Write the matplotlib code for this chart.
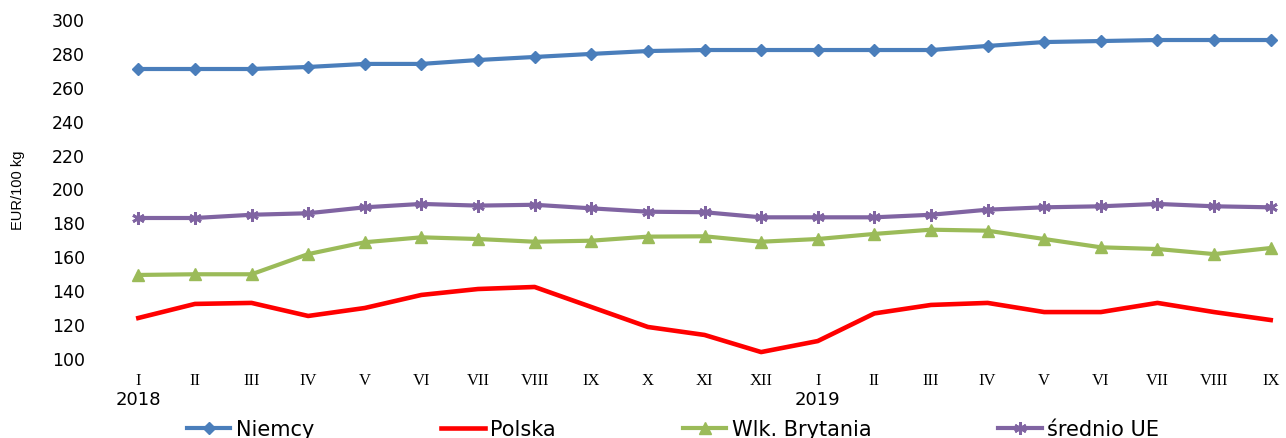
import matplotlib
matplotlib.use("Agg")
import matplotlib.pyplot as plt

# dane (EUR/100 kg)
months = ["I", "II", "III", "IV", "V", "VI", "VII", "VIII", "IX", "X", "XI", "XII",
          "I", "II", "III", "IV", "V", "VI", "VII", "VIII", "IX"]
years = {0: "2018", 12: "2019"}

niemcy = [270.5, 270.5, 270.5, 271.7, 273.5, 273.5, 275.8, 277.6, 279.4, 281.1, 281.7,
          281.7, 281.7, 281.7, 281.7, 284.1, 286.4, 287.0, 287.6, 287.6, 287.6]
polska = [123.6, 131.9, 132.5, 124.8, 129.5, 137.2, 140.7, 141.9, 130.1, 118.3, 113.6,
          103.5, 110.0, 126.3, 131.3, 132.5, 127.1, 127.1, 132.5, 127.1, 122.4]
wlk_brytania = [149.0, 149.4, 149.4, 161.3, 168.3, 171.2, 170.2, 168.6, 169.2, 171.6, 171.8,
                168.6, 170.2, 173.2, 175.7, 175.1, 170.2, 165.3, 164.3, 161.3, 164.9]
srednio_ue = [182.6, 182.6, 184.5, 185.4, 188.9, 190.9, 189.9, 190.4, 188.3, 186.3, 186.0,
              183.0, 183.0, 183.0, 184.5, 187.5, 188.9, 189.5, 190.9, 189.5, 188.9]

x = list(range(len(months)))

fig = plt.figure(figsize=(12.86, 4.39), dpi=100)
ax = fig.add_axes([110 / 1286, 1 - 359 / 439, 1176 / 1286, 339 / 439])

ax.plot(x, niemcy, color="#4a7ebb", lw=3, marker="D", ms=6, label="Niemcy")
ax.plot(x, polska, color="#ff0000", lw=3.3, label="Polska")
ax.plot(x, wlk_brytania, color="#9bbb59", lw=3, marker="^", ms=8, label="Wlk. Brytania")
ax.plot(x, srednio_ue, color="#8064a2", lw=3, marker=(6, 2, 0), ms=9, mew=2,
        label="średnio UE")

ax.set_ylim(100, 300)
ax.set_xlim(-0.5, 20.27)
ax.set_yticks(range(100, 301, 20))
ax.tick_params(axis="y", length=0, labelsize=12.5, pad=18)
ax.set_xticks(x)
ax.set_xticklabels(months, family="Liberation Serif", fontsize=12)
ax.tick_params(axis="x", length=0, pad=10)
for s in ax.spines.values():
    s.set_visible(False)

for i, yr in years.items():
    ax.text(i, -0.12, yr, transform=ax.get_xaxis_transform(), ha="center", va="center",
            fontsize=13)

fig.text(18 / 1286, 1 - 190 / 439, "EUR/100 kg", rotation=90, ha="center", va="center",
         family="Liberation Sans", fontsize=10.5)

fig.legend(loc="center", bbox_to_anchor=(673 / 1286, 1 - 430 / 439), ncol=4, frameon=False,
           fontsize=15, handlelength=2.1, handletextpad=0.25, columnspacing=6.1,
           borderaxespad=0)

fig.savefig("out.png", dpi=100)
